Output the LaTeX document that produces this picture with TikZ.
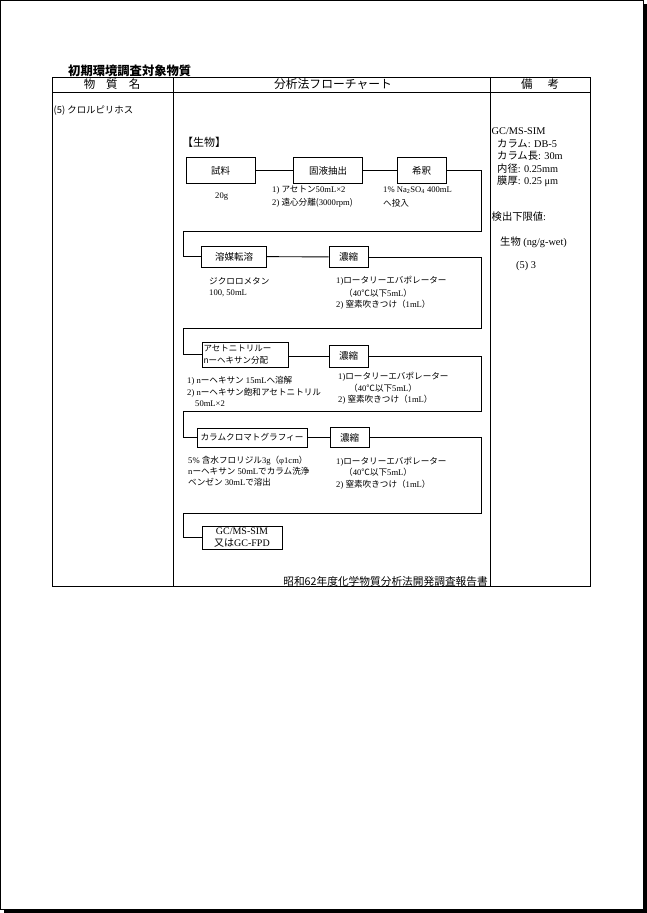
\documentclass[tikz,border=0pt]{standalone}
\usepackage{fontspec}
\setmainfont{Liberation Serif}
\newfontfamily\jpfont{Noto Sans CJK JP}
\newcommand\jtext[1]{{\jpfont #1}}
\begin{document}
\begin{tikzpicture}[x=1pt,y=-1pt,
  tab/.style={line width=0.9pt},
  wire/.style={line width=0.9pt},
  box/.style={draw, line width=1pt, inner sep=0pt, font=\jpfont\fontsize{9.5}{11}\selectfont},
  small/.style={anchor=west, inner sep=0pt, font=\fontsize{8.6}{10}\selectfont},
  rc/.style={anchor=west, inner sep=0pt, font=\fontsize{10.3}{12}\selectfont},
]
\useasboundingbox (0,0) rectangle (647,913);
% page frame with shadow
\fill[black] (4,4) rectangle (647,913);
\filldraw[fill=white, draw=black, line width=1pt] (0.5,0.5) rectangle (643.5,909.5);

% title
\node[anchor=west, inner sep=0pt, font=\jpfont\bfseries\fontsize{12.3}{14}\selectfont] (title) at (68,70.5) {初期環境調査対象物質};

% table
\draw[tab] (52,77) rectangle (590.5,586);
\draw[tab] (52,92) -- (590.5,92);
\draw[tab] (173,77) -- (173,586);
\draw[tab] (490,77) -- (490,586);

\node[inner sep=0pt, font=\jpfont\fontsize{11.5}{13}\selectfont] (h1) at (112,84.5) {物\hspace{11pt}質\hspace{11pt}名};
\node[inner sep=0pt, font=\jpfont\fontsize{11.8}{13}\selectfont] (h2) at (333,84.5) {分析法フローチャート};
\node[inner sep=0pt, font=\jpfont\fontsize{11.5}{13}\selectfont] (h3) at (540,84.5) {備\hspace{15pt}考};

\node[anchor=west, inner sep=0pt, font=\jpfont\fontsize{9.4}{11}\selectfont] (sub) at (53.5,110.5) {(5) クロルピリホス};

% flowchart
\node[anchor=west, inner sep=0pt, font=\jpfont\fontsize{11}{13}\selectfont] (bio) at (182,142) {【生物】};

\node[box, minimum width=69pt, minimum height=26pt] (b1) at (220.5,170.5) {試料};
\node[box, minimum width=69pt, minimum height=26pt] (b2) at (328,170.5) {固液抽出};
\node[box, minimum width=49pt, minimum height=26pt] (b3) at (421.5,170.5) {希釈};

\node[box, minimum width=65pt, minimum height=21pt] (b4) at (234,256.5) {溶媒転溶};
\node[box, minimum width=39pt, minimum height=21pt] (b5) at (348.5,257) {濃縮};

\node[box, minimum width=86pt, minimum height=25pt, align=left, text width=83pt, font=\jpfont\fontsize{8.5}{12}\selectfont] (b6) at (245,354.5) {アセトニトリルー\\\textit{n}ーヘキサン分配};
\node[box, minimum width=39pt, minimum height=22pt] (b7) at (348.5,356) {濃縮};

\node[box, minimum width=110pt, minimum height=19pt, font=\jpfont\fontsize{8.6}{10}\selectfont] (b8) at (252,437.5) {カラムクロマトグラフィー};
\node[box, minimum width=39pt, minimum height=20pt] (b9) at (349.5,437.5) {濃縮};

\node[box, minimum width=80pt, minimum height=23pt, align=center, font=\fontsize{10}{11.5}\selectfont] (b10) at (242,537.5) {GC/MS-SIM\\\jtext{又は}GC-FPD};

% corner points of the wires
\coordinate (r1) at (481.5,231.5);
\coordinate (l1) at (183,231.5);
\coordinate (r2) at (481.5,328.5);
\coordinate (l2) at (183,328.5);
\coordinate (r3) at (481.5,411);
\coordinate (l3) at (183,411);
\coordinate (r4) at (481.5,513);
\coordinate (l4) at (183,513);

\draw[wire] (b1) -- (b2);
\draw[wire] (b2) -- (b3);
\draw[wire] (b3.east) -| (r1) -- (l1) |- (b4.west);
\draw[wire] (b4) -- (b5);
\draw[wire] (b5.east) -| (r2) -- (l2) |- (b6.west);
\draw[wire] (b6.east |- b7.west) -- (b7.west);
\draw[wire] (b7.east) -| (r3) -- (l3) |- (b8.west);
\draw[wire] (b8) -- (b9);
\draw[wire] (b9.east) -| (r4) -- (l4) |- (b10.west);

% row 1 notes
\node[small] (n1) at (215,197) {20g};
\node[small] (n2) at (272,190) {1) \jtext{アセトン}50mL×2};
\node[small] (n3) at (272,203) {2) \jtext{遠心分離(}3000rpm\jtext{)}};
\node[small] (n4) at (383,190) {1\% Na\textsubscript{2}SO\textsubscript{4} 400mL};
\node[small] (n5) at (383,203) {\jtext{へ投入}};

% row 2 notes
\node[small] (n6) at (209,281) {\jtext{ジクロロメタン}};
\node[small] (n7) at (209,293) {100, 50mL};
\node[small] (n8) at (336,281) {1)\jtext{ロータリーエバポレーター}};
\node[small] (n9) at (344,293) {\jtext{（}40\jtext{℃以下}5mL\jtext{）}};
\node[small] (n10) at (336,304.5) {2) \jtext{窒素吹きつけ（}1mL\jtext{）}};

% row 3 notes
\node[small] (n11) at (187,380.5) {1) n\jtext{ーヘキサン} 15mL\jtext{へ溶解}};
\node[small] (n12) at (187,392.5) {2) n\jtext{ーヘキサン飽和アセトニトリル}};
\node[small] (n13) at (195,404) {50mL×2};
\node[small] (n14) at (338,376.5) {1)\jtext{ロータリーエバポレーター}};
\node[small] (n15) at (349,388) {\jtext{（}40\jtext{℃以下}5mL\jtext{）}};
\node[small] (n16) at (338,400) {2) \jtext{窒素吹きつけ（}1mL\jtext{）}};

% row 4 notes
\node[small] (n17) at (188,460.5) {5\% \jtext{含水フロリジル}3g\jtext{（}φ1cm\jtext{）}};
\node[small] (n18) at (188,471.5) {n\jtext{ーヘキサン} 50mL\jtext{でカラム洗浄}};
\node[small] (n19) at (188,482.5) {\jtext{ベンゼン} 30mL\jtext{で溶出}};
\node[small] (n20) at (336,461.5) {1)\jtext{ロータリーエバポレーター}};
\node[small] (n21) at (344,472.5) {\jtext{（}40\jtext{℃以下}5mL\jtext{）}};
\node[small] (n22) at (336,484.5) {2) \jtext{窒素吹きつけ（}1mL\jtext{）}};

% footer
\node[anchor=east, inner sep=0pt, font=\jpfont\fontsize{10.7}{12}\selectfont] (foot) at (488,581.5) {昭和62年度化学物質分析法開発調査報告書};

% remarks column
\node[rc] (m1) at (491.5,131) {GC/MS-SIM};
\node[rc] (m2) at (497,143.5) {\jtext{カラム}: DB-5};
\node[rc] (m3) at (497,156) {\jtext{カラム長}: 30m};
\node[rc] (m4) at (497,168.5) {\jtext{内径}: 0.25mm};
\node[rc] (m5) at (497,181) {\jtext{膜厚}: 0.25 μm};
\node[rc] (m6) at (491.5,217) {\jtext{検出下限値}:};
\node[rc] (m7) at (500,242) {\jtext{生物} (ng/g-wet)};
\node[rc] (m8) at (516,266) {(5) 3};
\end{tikzpicture}
\end{document}
